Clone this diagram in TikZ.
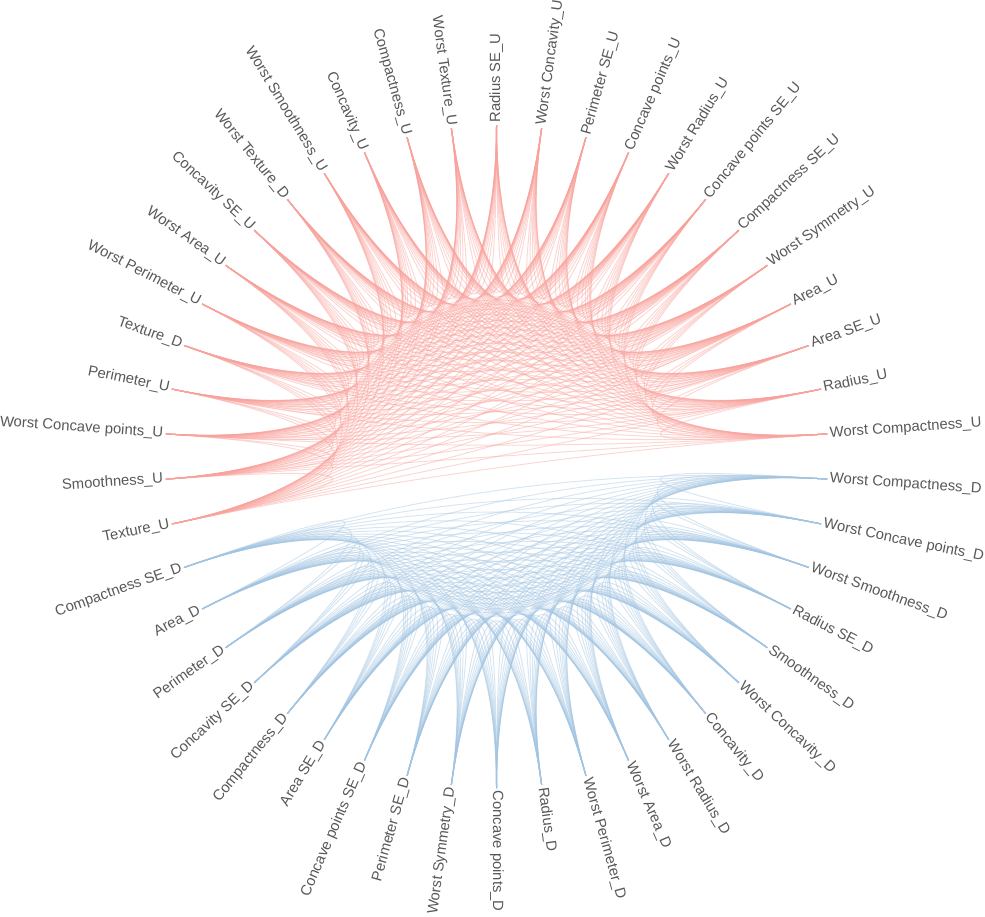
\documentclass[tikz,border=0pt]{standalone}
\usepackage{fontspec}
\setmainfont{Liberation Sans}
\usetikzlibrary{calc}
\definecolor{edgeU}{RGB}{248,162,156}
\definecolor{edgeD}{RGB}{162,196,225}
\definecolor{lbl}{RGB}{88,88,88}
\tikzset{
  linkU/.style={draw=edgeU, line width=1pt, opacity=0.42},
  linkD/.style={draw=edgeD, line width=1pt, opacity=0.42},
  lab/.style={text=lbl, font=\fontsize{14.8}{17}\selectfont, inner sep=0pt, text height=0.7em, text depth=0pt},
}
\begin{document}
\begin{tikzpicture}[x=1pt,y=1pt]
\useasboundingbox (0,0) rectangle (985,-916);
\coordinate (c) at (496.5,-456.5);
% node positions
\foreach \k in {0,...,45}{
  \pgfmathsetmacro\ang{(\k+0.5)*360/46}
  \coordinate (p\k) at ($(c)+(\ang:331.5)$);
  \coordinate (q\k) at ($(c)+(\ang:110.5)$);
}
% U group links
\foreach \i in {0,...,23}{
  \pgfmathtruncatemacro\s{\i+1}
  \foreach \j in {\s,...,24}{
    \draw[linkU] (p\i) .. controls (q\i) and (q\j) .. (p\j);
  }
}
% D group links
\foreach \i in {25,...,44}{
  \pgfmathtruncatemacro\s{\i+1}
  \foreach \j in {\s,...,45}{
    \draw[linkD] (p\i) .. controls (q\i) and (q\j) .. (p\j);
  }
}
% labels
\foreach \nm [count=\k from 0] in {
  Worst Compactness\_U, Radius\_U, Area SE\_U, Area\_U, Worst Symmetry\_U,
  Compactness SE\_U, Concave points SE\_U, Worst Radius\_U, Concave points\_U,
  Perimeter SE\_U, Worst Concavity\_U, Radius SE\_U, Worst Texture\_U,
  Compactness\_U, Concavity\_U, Worst Smoothness\_U, Worst Texture\_D,
  Concavity SE\_U, Worst Area\_U, Worst Perimeter\_U, Texture\_D, Perimeter\_U,
  Worst Concave points\_U, Smoothness\_U, Texture\_U,
  Compactness SE\_D, Area\_D, Perimeter\_D, Concavity SE\_D, Compactness\_D,
  Area SE\_D, Concave points SE\_D, Perimeter SE\_D, Worst Symmetry\_D,
  Concave points\_D, Radius\_D, Worst Perimeter\_D, Worst Area\_D,
  Worst Radius\_D, Concavity\_D, Worst Concavity\_D, Smoothness\_D,
  Radius SE\_D, Worst Smoothness\_D, Worst Concave points\_D, Worst Compactness\_D}{
  \pgfmathsetmacro\ang{(\k+0.5)*360/46}
  \pgfmathtruncatemacro\rt{(\ang<90.1 || \ang>269.9) ? 1 : 0}
  \ifnum\rt=1
    \node[lab, anchor=west, rotate=\ang] (l\k) at ($(c)+(\ang:334)$) {\nm};
  \else
    \pgfmathsetmacro\rang{\ang-180}
    \node[lab, anchor=east, rotate=\rang] (l\k) at ($(c)+(\ang:334)$) {\nm};
  \fi
}
\end{tikzpicture}
\end{document}
